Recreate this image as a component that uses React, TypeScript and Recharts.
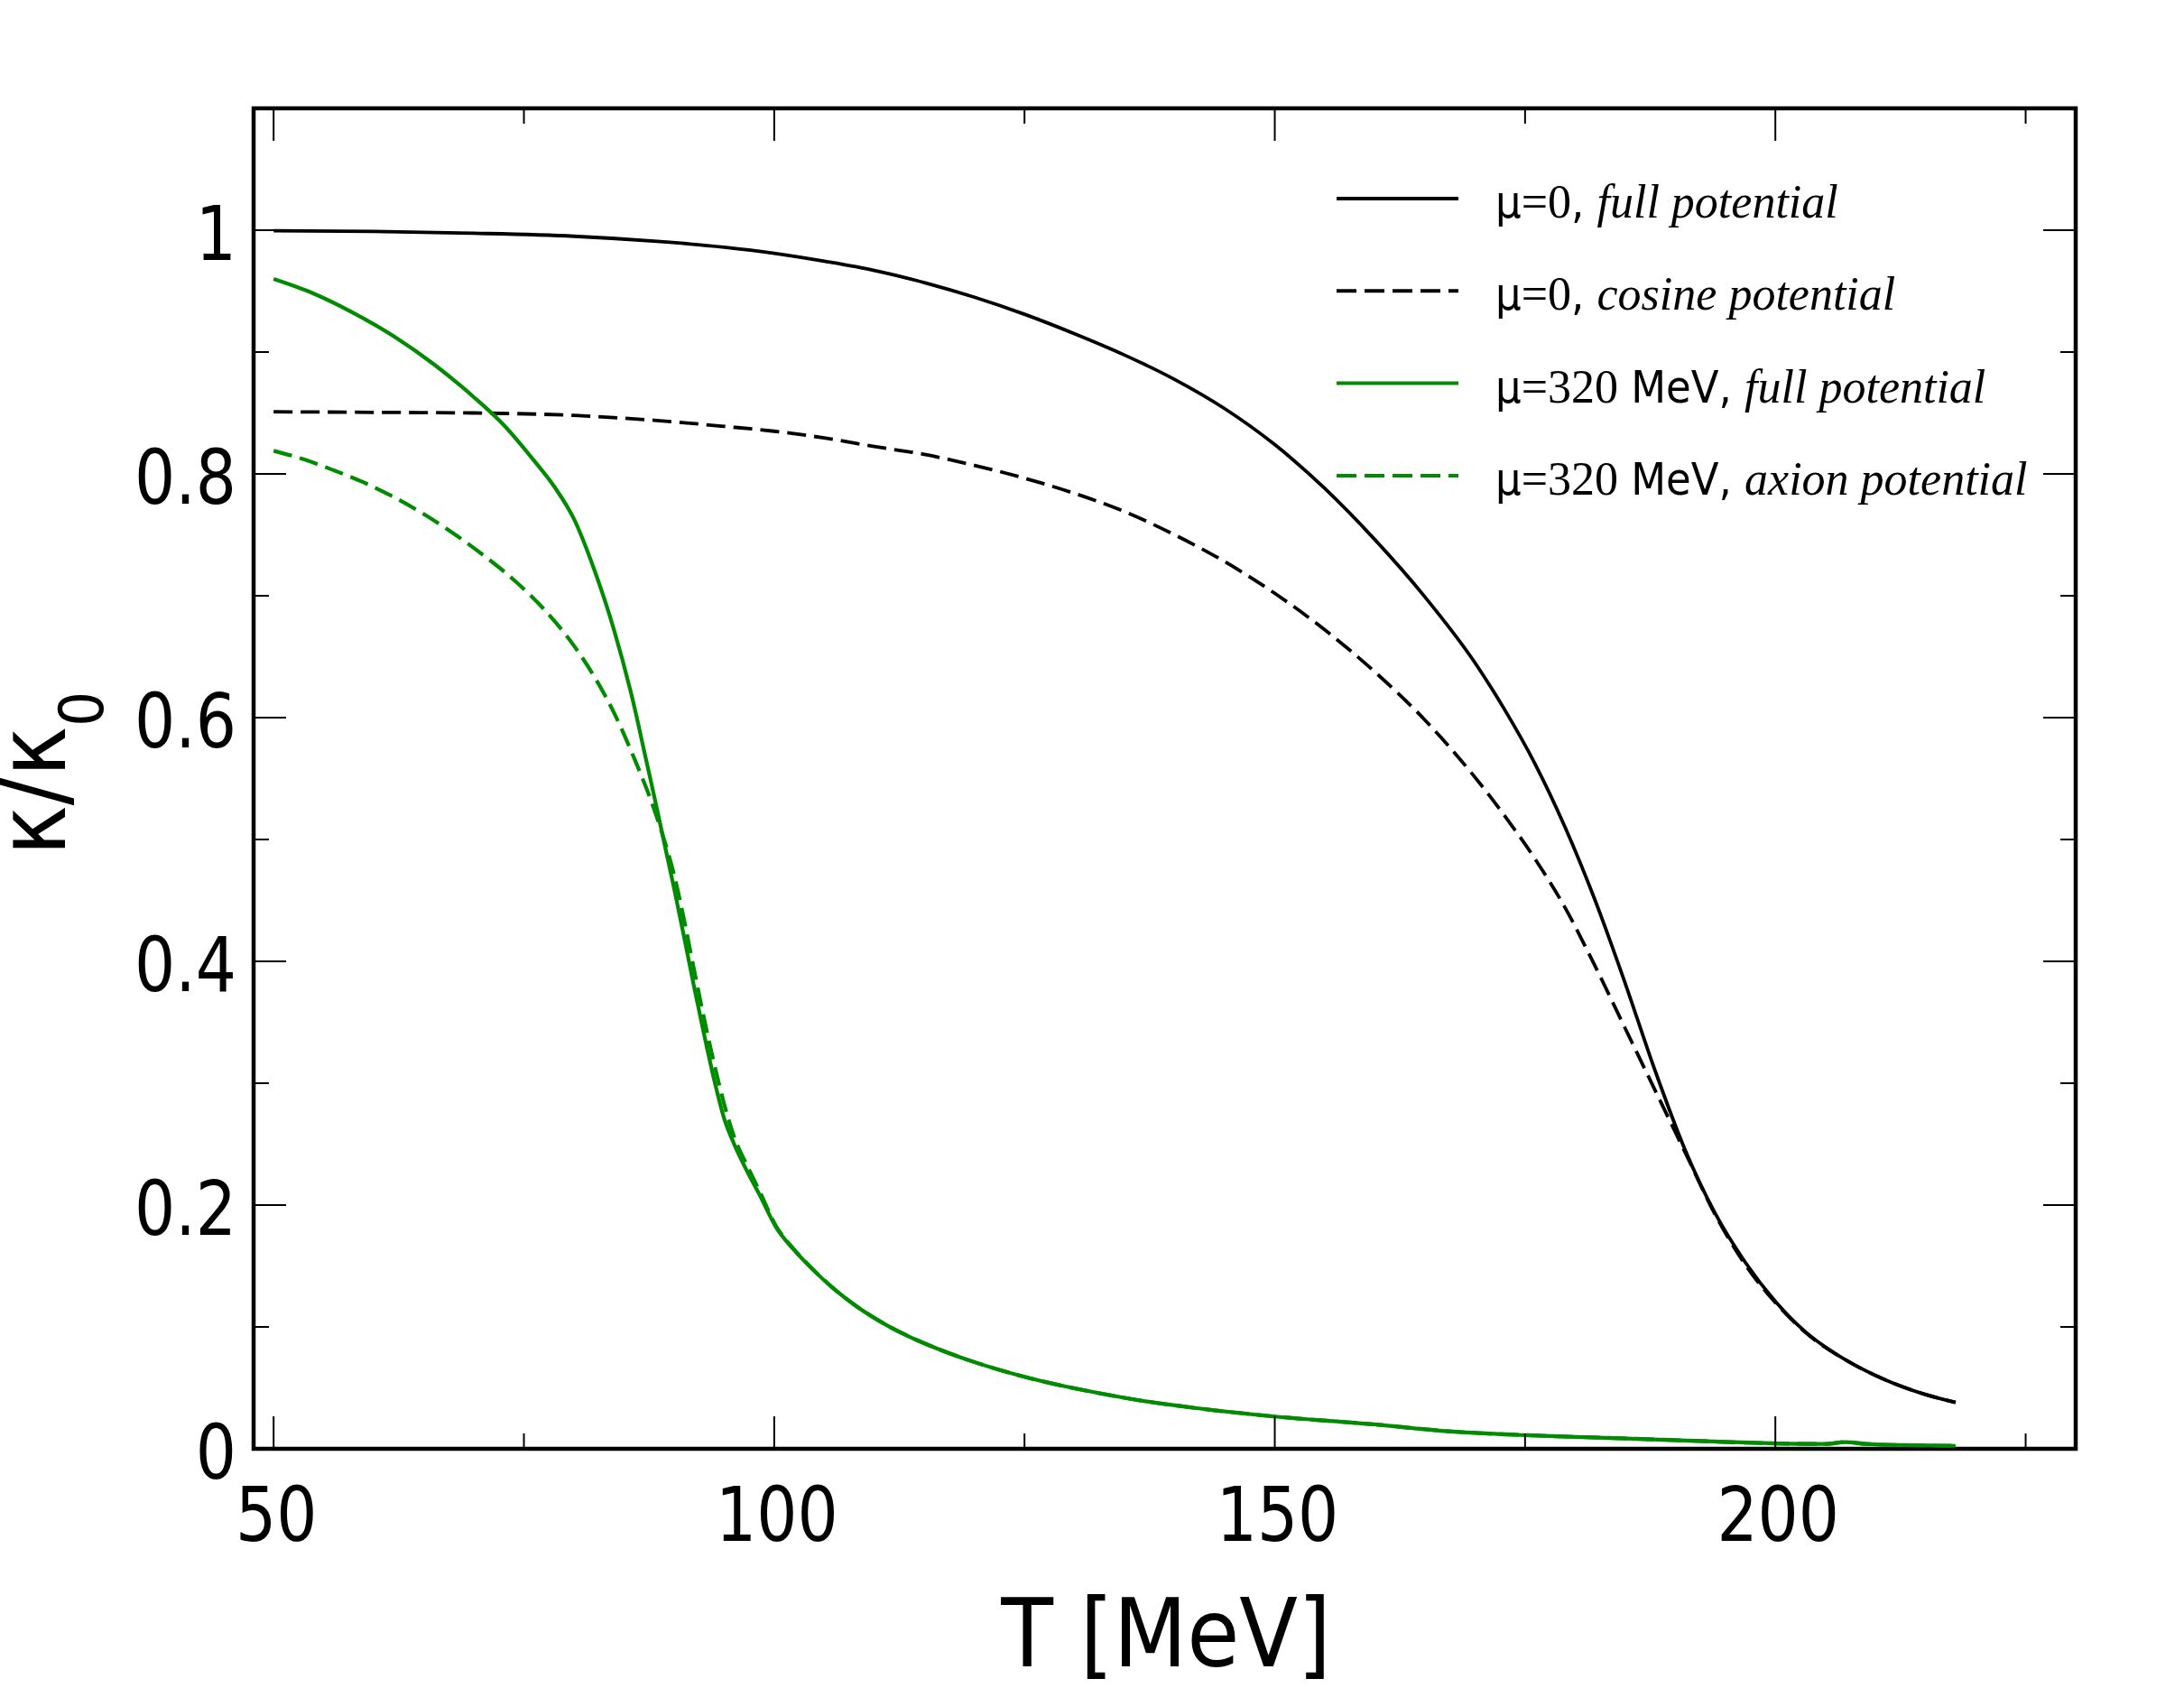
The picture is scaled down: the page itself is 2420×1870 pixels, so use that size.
import React from 'react';
import { LineChart, Line, XAxis, YAxis, ReferenceArea, Legend } from 'recharts';

// ---------- data ----------
const tMu0Full = [50, 60, 70, 80, 88, 95, 100, 105, 110, 115, 120, 125, 130, 135, 140, 145, 150, 155, 160, 165, 170, 173, 176, 179, 182, 185, 188, 191, 194, 197, 200, 203, 207, 211, 215, 218];
const kMu0Full = [0.9995, 0.999, 0.9975, 0.995, 0.991, 0.986, 0.981, 0.9745, 0.967, 0.957, 0.945, 0.931, 0.915, 0.8975, 0.8775, 0.8535, 0.824, 0.788, 0.746, 0.699, 0.645, 0.606, 0.562, 0.51, 0.45, 0.382, 0.31, 0.245, 0.193, 0.153, 0.121, 0.096, 0.073, 0.0565, 0.0445, 0.038];

const tMu0Cos = [50, 60, 70, 80, 88, 95, 100, 105, 110, 115, 120, 125, 130, 135, 140, 145, 150, 155, 160, 165, 170, 173, 176, 179, 182, 185, 188, 191, 194, 197, 200, 203, 207, 211, 215, 218];
const kMu0Cos = [0.851, 0.8505, 0.85, 0.848, 0.844, 0.839, 0.835, 0.8295, 0.8225, 0.816, 0.807, 0.7965, 0.784, 0.769, 0.75, 0.728, 0.702, 0.672, 0.6375, 0.598, 0.551, 0.519, 0.484, 0.444, 0.396, 0.345, 0.294, 0.243, 0.192, 0.151, 0.12, 0.0955, 0.073, 0.0565, 0.0445, 0.038];

const tMu320Full = [50, 54, 58, 62, 66, 70, 73, 76, 78, 80, 82, 84, 86, 87, 88, 89, 90, 91, 92, 93, 94, 95, 96, 97.4, 98.5, 100.2, 102, 103.8, 106, 108.2, 111, 113.5, 116.5, 119.5, 125.5, 131.6, 136.3, 142, 150, 160, 167, 175, 183, 191, 200, 205, 207, 209, 213, 218];
const kMu320Full = [0.96, 0.948, 0.932, 0.913, 0.89, 0.863, 0.84, 0.811, 0.79, 0.763, 0.722, 0.672, 0.61, 0.573, 0.536, 0.498, 0.46, 0.42, 0.379, 0.34, 0.303, 0.271, 0.25, 0.226, 0.209, 0.1816, 0.163, 0.1475, 0.131, 0.117, 0.1025, 0.092, 0.0815, 0.0725, 0.058, 0.047, 0.04, 0.0335, 0.0265, 0.02, 0.0146, 0.0112, 0.009, 0.0068, 0.0044, 0.004, 0.0055, 0.004, 0.003, 0.0024];

const tMu320Axion = [50, 53, 56, 59, 62, 65, 68, 71, 74, 77, 80, 82, 84, 86, 88, 89, 90, 91, 92, 93, 94, 95, 96, 97.4, 98.5, 100.2, 102, 103.8, 106, 108.2, 111, 113.5, 116.5, 119.5, 125.5, 131.6, 136.3, 142, 150, 160, 167, 175, 183, 191, 200, 205, 207, 209, 213, 218];
const kMu320Axion = [0.819, 0.812, 0.803, 0.793, 0.781, 0.767, 0.751, 0.733, 0.713, 0.689, 0.659, 0.634, 0.604, 0.567, 0.525, 0.5, 0.471, 0.434, 0.393, 0.353, 0.316, 0.283, 0.256, 0.2306, 0.212, 0.1826, 0.1635, 0.1478, 0.131, 0.117, 0.1025, 0.092, 0.0815, 0.0725, 0.058, 0.047, 0.04, 0.0335, 0.0265, 0.02, 0.0146, 0.0112, 0.009, 0.0068, 0.0044, 0.004, 0.0055, 0.004, 0.003, 0.0024];

const xTicks = [50, 75, 100, 125, 150, 175, 200, 225];
const xMajor = [50, 100, 150, 200];
const yTicks = [0, 0.1, 0.2, 0.3, 0.4, 0.5, 0.6, 0.7, 0.8, 0.9, 1];
const yMajor = [0, 0.2, 0.4, 0.6, 0.8, 1];
const yTickLabels = ['0', '0.2', '0.4', '0.6', '0.8', '1'];

const legendMu = ['0', '0', '320', '320'];
const legendUnit = ['', '', ' MeV', ' MeV'];
const legendDesc = ['full potential', 'cosine potential', 'full potential', 'axion potential'];
const seriesColors = ['#000000', '#000000', '#008b00', '#008b00'];
const seriesDashed = [false, true, false, true];

const xDomain = [48, 230];
const yDomain = [0, 1.1];

// ---------- helpers ----------
const zip = (ts: number[], ks: number[]) => ts.map((T, i) => ({ T, v: ks[i] }));
const seriesData = [
  zip(tMu0Full, kMu0Full),
  zip(tMu0Cos, kMu0Cos),
  zip(tMu320Full, kMu320Full),
  zip(tMu320Axion, kMu320Axion),
];

const SANS = "'DejaVu Sans Condensed', 'DejaVu Sans', sans-serif";
const SERIF = "'Liberation Serif', 'DejaVu Serif', serif";
const MAJ = 36;
const MIN = 17;
const DASH = '21 9';
const TICK_FS = 84;
const TICK_SX = 0.94;

const BottomTick = (p: any) => {
  const { x, y, payload } = p;
  const major = xMajor.includes(payload.value);
  return (
    <g>
      <line x1={x} x2={x} y1={y} y2={y - (major ? MAJ : MIN)} stroke="#000" strokeWidth={2} />
      {major && (
        <text
          transform={`translate(${x + 3},${y + 102}) scale(${TICK_SX},1)`}
          x={0}
          y={0}
          textAnchor="middle"
          fontSize={TICK_FS}
          fontFamily={SANS}
          style={{ fontStretch: 'condensed' }}
          fill="#000"
        >
          {String(payload.value)}
        </text>
      )}
    </g>
  );
};

const TopTick = (p: any) => {
  const { x, y, payload } = p;
  const major = xMajor.includes(payload.value);
  return <line x1={x} x2={x} y1={y} y2={y + (major ? MAJ : MIN)} stroke="#000" strokeWidth={2} />;
};

const LeftTick = (p: any) => {
  const { x, y, payload } = p;
  const idx = yMajor.findIndex((m) => Math.abs(m - payload.value) < 1e-9);
  const major = idx >= 0;
  return (
    <g>
      <line x1={x} x2={x + (major ? MAJ : MIN)} y1={y} y2={y} stroke="#000" strokeWidth={2} />
      {major && (
        <text
          transform={`translate(${x - 19},${y + 33}) scale(${TICK_SX},1)`}
          x={0}
          y={0}
          textAnchor="end"
          fontSize={TICK_FS}
          fontFamily={SANS}
          style={{ fontStretch: 'condensed' }}
          fill="#000"
        >
          {yTickLabels[idx]}
        </text>
      )}
    </g>
  );
};

const RightTick = (p: any) => {
  const { x, y, payload } = p;
  const major = yMajor.some((m) => Math.abs(m - payload.value) < 1e-9);
  return <line x1={x} x2={x - (major ? MAJ : MIN)} y1={y} y2={y} stroke="#000" strokeWidth={2} />;
};

const XLabel = () => (
  <text x={1292} y={1846} textAnchor="middle" fontSize={105} fontFamily={SANS} style={{ fontStretch: 'condensed' }} fill="#000">
    T [MeV]
  </text>
);

const YLabel = () => (
  <text x={72} y={948} transform="rotate(-90, 72, 948)" textAnchor="start" fontSize={105} fontFamily={SANS} style={{ fontStretch: 'condensed' }} fill="#000">
    κ/κ
    <tspan fontSize={68} dy={42}>0</tspan>
  </text>
);

const LegendBox = () => (
  <svg width={900} height={440} style={{ display: 'block', overflow: 'visible' }}>
    {legendDesc.map((d, i) => {
      const y = 50 + i * 102.3;
      return (
        <g key={i}>
          <line x1={41} x2={176} y1={y} y2={y} stroke={seriesColors[i]} strokeWidth={4} strokeDasharray={seriesDashed[i] ? '22 9' : undefined} />
          <text x={217} y={y + 21} fill="#000" fontSize={52}>
            <tspan fontFamily={SANS} fontSize={50}>μ</tspan>
            <tspan fontFamily={SERIF}>={legendMu[i]}</tspan>
            <tspan fontFamily={SANS} fontSize={50}>{legendUnit[i]}, </tspan>
            <tspan fontFamily={SERIF} fontStyle="italic">{d}</tspan>
          </text>
        </g>
      );
    })}
  </svg>
);

export default function App() {
  return (
    <div style={{ position: 'absolute', left: 0, top: 0, width: 2420, height: 1870, background: '#fff' }}>
      <LineChart width={2420} height={1870} margin={{ top: 0, right: 0, bottom: 0, left: 0 }}>
        <XAxis
          xAxisId={0}
          type="number"
          dataKey="T"
          domain={xDomain}
          allowDataOverflow
          ticks={xTicks}
          interval={0}
          orientation="bottom"
          height={265}
          tickSize={0}
          tickMargin={0}
          axisLine={false}
          tickLine={false}
          tick={<BottomTick />}
          label={<XLabel />}
        />
        <XAxis
          xAxisId="top"
          type="number"
          dataKey="T"
          domain={xDomain}
          allowDataOverflow
          ticks={xTicks}
          interval={0}
          orientation="top"
          height={120}
          tickSize={0}
          tickMargin={0}
          axisLine={false}
          tickLine={false}
          tick={<TopTick />}
        />
        <YAxis
          yAxisId={0}
          type="number"
          domain={yDomain}
          allowDataOverflow
          ticks={yTicks}
          interval={0}
          orientation="left"
          width={281}
          tickSize={0}
          tickMargin={0}
          axisLine={false}
          tickLine={false}
          tick={<LeftTick />}
          label={<YLabel />}
        />
        <YAxis
          yAxisId="right"
          type="number"
          domain={yDomain}
          allowDataOverflow
          ticks={yTicks}
          interval={0}
          orientation="right"
          width={120}
          tickSize={0}
          tickMargin={0}
          axisLine={false}
          tickLine={false}
          tick={<RightTick />}
        />
        {seriesData.map((d, i) => (
          <Line
            key={i}
            xAxisId={0}
            yAxisId={0}
            data={d}
            dataKey="v"
            type="monotone"
            stroke={seriesColors[i]}
            strokeWidth={i < 2 ? 3.8 : 4.2}
            strokeDasharray={seriesDashed[i] ? DASH : undefined}
            dot={false}
            activeDot={false}
            isAnimationActive={false}
            name={legendDesc[i]}
          />
        ))}
        <ReferenceArea
          xAxisId={0}
          yAxisId={0}
          x1={xDomain[0]}
          x2={xDomain[1]}
          y1={yDomain[0]}
          y2={yDomain[1]}
          fill="none"
          fillOpacity={0}
          stroke="#000"
          strokeWidth={4.5}
          ifOverflow="visible"
        />
        <Legend
          layout="vertical"
          align="center"
          verticalAlign="middle"
          wrapperStyle={{ left: 1440, top: 170, width: 900, height: 440 }}
          content={() => <LegendBox />}
        />
      </LineChart>
    </div>
  );
}
